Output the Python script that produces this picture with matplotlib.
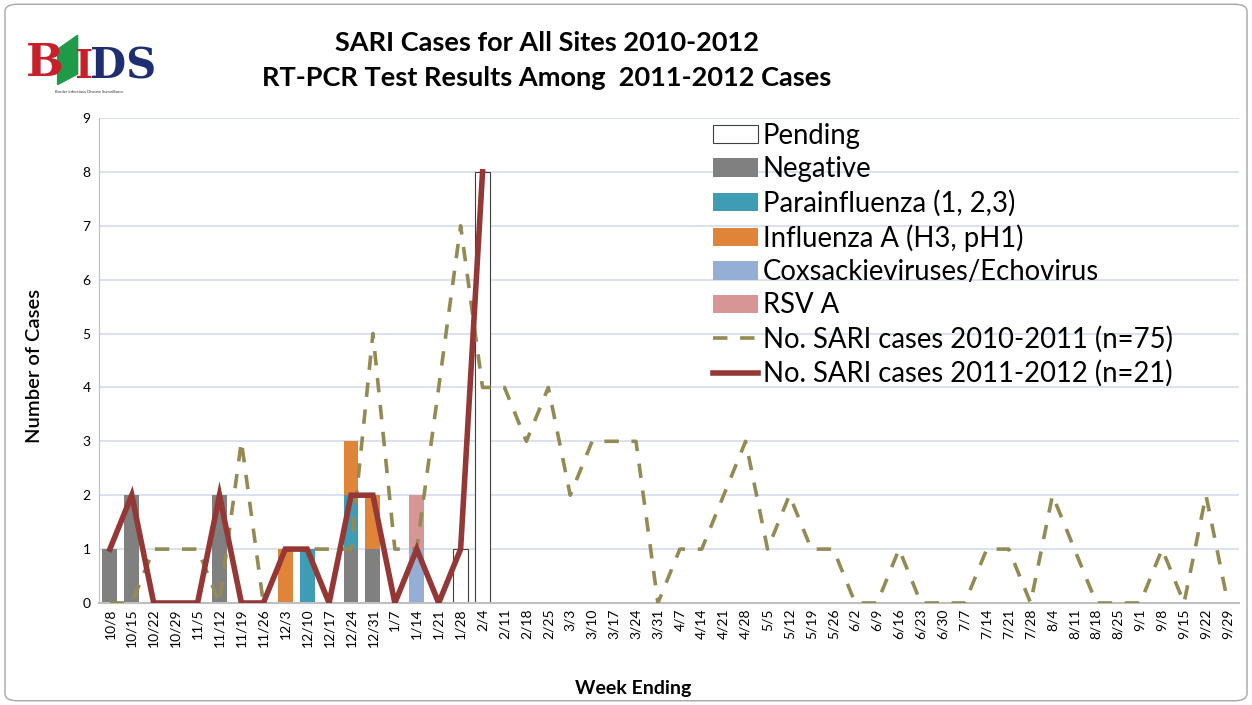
import numpy as np
import matplotlib.pyplot as plt
from matplotlib.patches import FancyBboxPatch, Polygon

plt.rcParams['font.family'] = ['Lato', 'DejaVu Sans']

weeks = ['10/8', '10/15', '10/22', '10/29', '11/5', '11/12', '11/19', '11/26',
         '12/3', '12/10', '12/17', '12/24', '12/31', '1/7', '1/14', '1/21',
         '1/28', '2/4', '2/11', '2/18', '2/25', '3/3', '3/10', '3/17', '3/24',
         '3/31', '4/7', '4/14', '4/21', '4/28', '5/5', '5/12', '5/19', '5/26',
         '6/2', '6/9', '6/16', '6/23', '6/30', '7/7', '7/14', '7/21', '7/28',
         '8/4', '8/11', '8/18', '8/25', '9/1', '9/8', '9/15', '9/22', '9/29']

# weekly SARI counts
sari_2010_2011 = [0, 0, 1, 1, 1, 0, 3, 0, 1, 1, 1, 1, 5, 1, 1, 4, 7, 4, 4, 3,
                  4, 2, 3, 3, 3, 0, 1, 1, 2, 3, 1, 2, 1, 1, 0, 0, 1, 0, 0, 0,
                  1, 1, 0, 2, 1, 0, 0, 0, 1, 0, 2, 0]
sari_2011_2012 = [1, 2, 0, 0, 0, 2, 0, 0, 1, 1, 0, 2, 2, 0, 1, 0, 1, 8]

# RT-PCR results for 2011-2012 cases (first 18 weeks)
negative =      [1, 2, 0, 0, 0, 2, 0, 0, 0, 0, 0, 1, 1, 0, 0, 0, 0, 0]
parainfluenza = [0, 0, 0, 0, 0, 0, 0, 0, 0, 1, 0, 1, 0, 0, 0, 0, 0, 0]
influenza_a =   [0, 0, 0, 0, 0, 0, 0, 0, 1, 0, 0, 1, 1, 0, 0, 0, 0, 0]
coxsackie =     [0, 0, 0, 0, 0, 0, 0, 0, 0, 0, 0, 0, 0, 0, 1, 0, 0, 0]
rsv_a =         [0, 0, 0, 0, 0, 0, 0, 0, 0, 0, 0, 0, 0, 0, 1, 0, 0, 0]
pending =       [0, 0, 0, 0, 0, 0, 0, 0, 0, 0, 0, 0, 0, 0, 0, 0, 1, 8]

fig = plt.figure(figsize=(12.52, 7.05), dpi=100)
ax = fig.add_axes([0.079, 0.1447, 0.9105, 0.688])

x = np.arange(len(weeks))
xb = np.arange(len(negative))
w = 0.68
bottom = np.zeros(len(xb))
h_pend = ax.bar(xb, pending, w, bottom=0, color='white', edgecolor='#404040',
                linewidth=0.8, label='Pending', zorder=2)
stack = [(negative, '#808080', 'Negative'),
         (parainfluenza, '#3E9CB4', 'Parainfluenza (1, 2,3)'),
         (influenza_a, '#E0843A', 'Influenza A (H3, pH1)'),
         (coxsackie, '#95AED6', 'Coxsackieviruses/Echovirus'),
         (rsv_a, '#D79596', 'RSV A')]
handles = [h_pend]
for vals, col, lab in stack:
    h = ax.bar(xb, vals, w, bottom=bottom, color=col, label=lab, zorder=2)
    handles.append(h)
    bottom += np.array(vals)

l1, = ax.plot(x, sari_2010_2011, color='#948A54', lw=2.6, ls=(0, (4, 3.5)),
              label='No. SARI cases 2010-2011 (n=75)', zorder=3)
l2, = ax.plot(np.arange(len(sari_2011_2012)), sari_2011_2012, color='#953735',
              lw=4, label='No. SARI cases 2011-2012 (n=21)', zorder=4,
              solid_joinstyle='miter')
handles += [l1, l2]

ax.set_xlim(-0.5, len(weeks) - 0.5)
ax.set_ylim(0, 9)
ax.set_yticks(range(10))
ax.set_xticks(x)
ax.set_xticklabels(weeks, rotation=90, fontsize=10)
ax.tick_params(axis='y', labelsize=10, length=0, pad=6)
ax.tick_params(axis='x', length=0, pad=4)
ax.yaxis.grid(True, color='#D3DCF0', lw=1.2)
ax.set_axisbelow(True)
for s in ['top', 'right']:
    ax.spines[s].set_visible(False)
ax.spines['left'].set_color('#BFBFBF')
ax.spines['bottom'].set_color('#BFBFBF')
ax.spines['bottom'].set_linewidth(1.5)

ax.set_ylabel('Number of Cases', fontsize=14.5, fontweight='semibold')
ax.yaxis.set_label_coords(-0.049, 0.489)
ax.set_xlabel('Week Ending', fontsize=14, fontweight='bold')
ax.xaxis.set_label_coords(0.469, -0.159)

leg = ax.legend(handles=handles, loc='upper left', bbox_to_anchor=(0.5386, 0.99),
                frameon=False, fontsize=19.8, handlelength=1.64, handleheight=0.65,
                handletextpad=0.18, labelspacing=0.27, borderaxespad=0,
                borderpad=0)

fig.text(0.437, 0.939, 'SARI Cases for All Sites 2010-2012', ha='center',
         va='center', fontsize=19.5, fontweight='bold')
fig.text(0.437, 0.889, 'RT-PCR Test Results Among  2011-2012 Cases', ha='center',
         va='center', fontsize=19.5, fontweight='bold')

# logo
fig.text(0.021, 0.91, 'B', color='#C8202A', fontsize=32, family='DejaVu Serif',
         fontweight='bold', va='center')
fig.text(0.059, 0.905, 'I', color='#C8202A', fontsize=28, family='DejaVu Serif',
         fontweight='bold', va='center')
fig.patches.append(Polygon([(0.046, 0.93), (0.062, 0.95), (0.062, 0.895),
                            (0.046, 0.88)], closed=True, color='#1E9A48',
                           transform=fig.transFigure))
fig.text(0.072, 0.905, 'DS', color='#1F2E73', fontsize=30, family='DejaVu Serif',
         fontweight='bold', va='center')
fig.text(0.071, 0.868, 'Border Infectious Disease Surveillance', fontsize=3,
         color='#333333', ha='center')

fig.patches.append(FancyBboxPatch((0.004, 0.006), 0.992, 0.988,
                                  boxstyle='round,pad=0,rounding_size=0.01',
                                  transform=fig.transFigure, fill=False,
                                  edgecolor='#A6A6A6', lw=1))

fig.savefig('out.png', dpi=100)
